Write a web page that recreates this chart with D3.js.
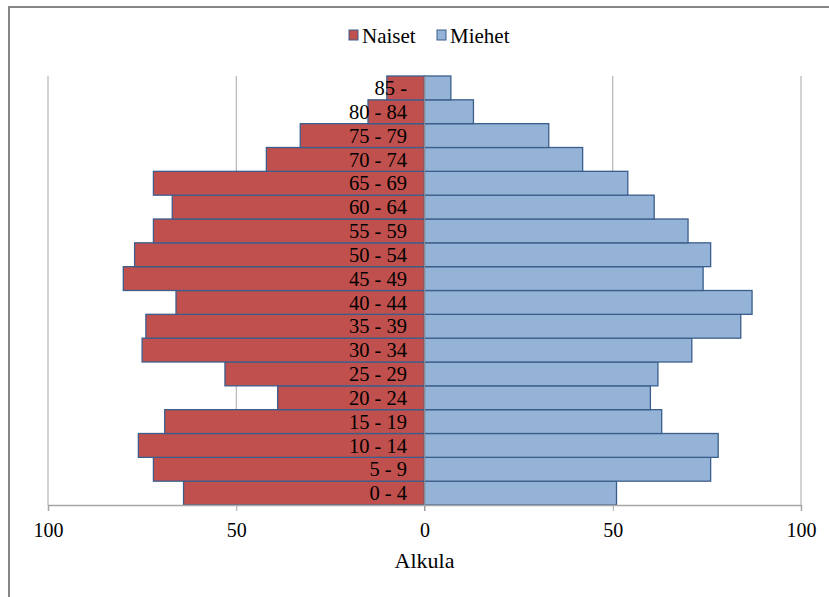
<!DOCTYPE html>
<html><head><meta charset="utf-8">
<script src="https://cdn.jsdelivr.net/npm/d3@7"></script>
<style>body{margin:0;background:#fff}svg{display:block}svg text{font-family:"Liberation Serif","Times New Roman",Times,serif}</style>
</head><body>
<script>
const categories = ["0 - 4","5 - 9","10 - 14","15 - 19","20 - 24","25 - 29","30 - 34","35 - 39","40 - 44","45 - 49","50 - 54","55 - 59","60 - 64","65 - 69","70 - 74","75 - 79","80 - 84","85 -"];
const naiset = [64,72,76,69,39,53,75,74,66,80,77,72,67,72,42,33,15,10];
const miehet = [51,76,78,63,60,62,71,84,87,74,76,70,61,54,42,33,13,7];
const ticks = [-100,-50,0,50,100];
const seriesNames = ["Naiset","Miehet"];
const xTitle = "Alkula";

const W=829,H=597;
const svg=d3.select("body").append("svg").attr("width",W).attr("height",H);
svg.append("rect").attr("x",9).attr("y",7).attr("width",W+10).attr("height",H+10)
  .attr("fill","#fff").attr("stroke","#868686").attr("stroke-width",2);

const x=d3.scaleLinear().domain([-100,100]).range([48,801]);
const y=d3.scaleBand().domain(categories.slice().reverse()).range([76,505]).padding(0);

// gridlines
svg.append("g").selectAll("line").data(ticks).join("line")
  .attr("x1",d=>x(d)).attr("x2",d=>x(d)).attr("y1",76).attr("y2",505)
  .attr("stroke","#a6a6a6").attr("stroke-width",1);

const red="#C0504D", blue="#95B3D7", edge="#3B5E8C";
svg.append("g").selectAll("rect").data(categories).join("rect")
  .attr("x",(d,i)=>x(-naiset[i])).attr("y",d=>y(d))
  .attr("width",(d,i)=>x(0)-x(-naiset[i])).attr("height",y.bandwidth())
  .attr("fill",red).attr("stroke",edge).attr("stroke-width",1.3);
svg.append("g").selectAll("rect").data(categories).join("rect")
  .attr("x",x(0)).attr("y",d=>y(d))
  .attr("width",(d,i)=>x(miehet[i])-x(0)).attr("height",y.bandwidth())
  .attr("fill",blue).attr("stroke",edge).attr("stroke-width",1.3);

// zero line
svg.append("line").attr("x1",x(0)).attr("x2",x(0)).attr("y1",76).attr("y2",511)
  .attr("stroke","#8c8c8c").attr("stroke-width",1);

// axis
const ax=svg.append("g").attr("transform","translate(0,505)")
  .call(d3.axisBottom(x).tickValues(ticks).tickFormat(d=>Math.abs(d)).tickSize(6).tickPadding(12));
ax.attr("font-family",null).attr("font-size",null);
ax.select(".domain").attr("stroke","#a6a6a6").attr("stroke-width",1.5);
ax.selectAll(".tick line").attr("stroke","#a6a6a6");
ax.selectAll("text").style("font-size","20px").attr("fill","#000");

// category labels
svg.append("g").selectAll("text").data(categories).join("text")
  .attr("x",407).attr("y",d=>y(d)+y.bandwidth()/2).attr("dy","0.35em")
  .attr("text-anchor","end").style("font-size","20.5px")
  .text(d=>d);

svg.append("text").attr("x",x(0)).attr("y",568).attr("text-anchor","middle")
  .style("font-size","22px").text(xTitle);

// legend
const lg=svg.append("g");
const lx=[349,437];
seriesNames.forEach((s,i)=>{
  lg.append("rect").attr("x",lx[i]).attr("y",30).attr("width",9).attr("height",10)
    .attr("fill",i?blue:red).attr("stroke",edge).attr("stroke-width",1);
  lg.append("text").attr("x",lx[i]+13).attr("y",43).style("font-size","21px").text(s);
});
</script>
</body></html>
